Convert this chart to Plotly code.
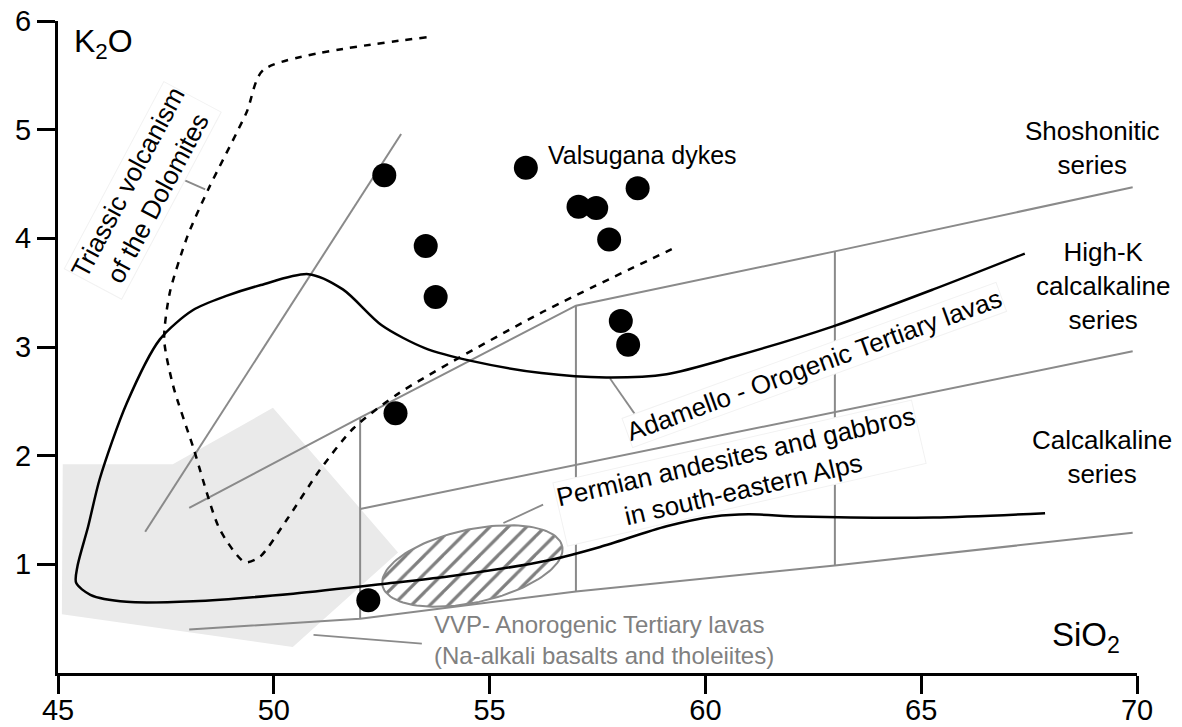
import numpy as np
import plotly.graph_objects as go

FONT = "Liberation Sans, Arial, sans-serif"
GRAY = "#8a8a8a"

# Valsugana dykes (SiO2, K2O)
dyke_sio2 = [52.56, 55.84, 57.06, 57.47, 58.43, 57.77, 53.52, 53.75, 58.04, 58.21, 52.82, 52.19]
dyke_k2o = [4.58, 4.65, 4.29, 4.28, 4.46, 3.99, 3.93, 3.46, 3.24, 3.02, 2.39, 0.67]

# VVP anorogenic field (grey polygon)
vvp_x = [45.11, 47.66, 49.98, 52.88, 50.44, 45.09]
vvp_y = [1.92, 1.92, 2.44, 1.11, 0.24, 0.54]

# Adamello orogenic field boundary
ada_x = [67.40, 65.28, 62.96, 60.65, 59.10, 57.70, 56.20, 54.60, 53.50, 52.50, 51.60, 50.80,
         49.70, 48.90, 48.13, 47.36, 46.59, 45.97, 45.70, 45.45, 45.42, 45.75, 46.59,
         48.13, 50.45, 52.77, 54.08, 56.40, 57.56, 59.10, 60.20, 61.00, 62.19, 65.28, 67.87]
ada_y = [3.86, 3.53, 3.19, 2.91, 2.75, 2.72, 2.76, 2.87, 2.99, 3.20, 3.53, 3.67,
         3.57, 3.47, 3.34, 3.07, 2.48, 1.79, 1.35, 0.98, 0.83, 0.72, 0.655,
         0.66, 0.73, 0.83, 0.89, 1.04, 1.16, 1.35, 1.44, 1.46, 1.44, 1.43, 1.47]

# Triassic volcanism of the Dolomites (dashed)
tri_x = [53.54, 49.76, 49.37, 48.48, 48.00, 47.59, 47.46, 47.67, 48.13, 48.75, 49.33, 49.68,
         50.30, 51.07, 51.84, 52.92, 56.17, 59.22]
tri_y = [5.85, 5.55, 5.16, 4.45, 4.02, 3.50, 3.07, 2.64, 2.08, 1.32, 1.02, 1.07,
         1.41, 1.87, 2.25, 2.58, 3.31, 3.90]

# Series boundaries
lineA_x = [47.02, 52.95]
lineA_y = [1.30, 4.96]
shosh_x = [48.04, 52.0, 57.0, 63.0, 69.9]
shosh_y = [1.52, 2.35, 3.38, 3.88, 4.47]
hk_x = [52.0, 69.9]
hk_y = [1.51, 2.96]
ca_x = [48.04, 52.0, 57.0, 63.0, 69.9]
ca_y = [0.40, 0.50, 0.75, 0.99, 1.29]
div_x = [52.0, 57.0, 63.0]

# Permian ellipse parameters
ell_cx, ell_cy = 54.60, 0.985
ell_a_px, ell_b_px, ell_ang = 92.0, 36.5, 12.4
PX_X, PX_Y = 43.16, 108.7

fig = go.Figure()

fig.add_trace(go.Scatter(x=vvp_x + [vvp_x[0]], y=vvp_y + [vvp_y[0]], fill="toself",
                         fillcolor="#eaeaea", line=dict(width=0), mode="lines", hoverinfo="skip"))

# ellipse
t = np.linspace(0, 2 * np.pi, 120)
th = np.deg2rad(ell_ang)
dx = ell_a_px * np.cos(t) * np.cos(th) - ell_b_px * np.sin(t) * np.sin(th)
dy = ell_a_px * np.cos(t) * np.sin(th) + ell_b_px * np.sin(t) * np.cos(th)
fig.add_trace(go.Scatter(x=ell_cx + dx / PX_X, y=ell_cy + dy / PX_Y, fill="toself", mode="lines",
                         fillcolor="white",
                         fillpattern=dict(shape="/", size=13, solidity=0.25, fgcolor="black", bgcolor="white"),
                         line=dict(color=GRAY, width=2), hoverinfo="skip"))

# grey boundaries
vx, vy = [], []
for xv in div_x:
    vx += [xv, xv, None]
    vy += [float(np.interp(xv, ca_x, ca_y)), float(np.interp(xv, shosh_x, shosh_y)), None]
for xs, ys in [(lineA_x, lineA_y), (shosh_x, shosh_y), (hk_x, hk_y), (ca_x, ca_y), (vx, vy)]:
    fig.add_trace(go.Scatter(x=xs, y=ys, mode="lines", line=dict(color=GRAY, width=2), hoverinfo="skip"))

# leader lines
leaders = [([47.90, 48.41], [4.54, 4.45]), ([57.79, 58.37], [2.71, 2.38]),
           ([55.32, 56.24], [1.38, 1.55]), ([50.92, 53.43], [0.35, 0.27])]
for lx, ly in leaders:
    fig.add_trace(go.Scatter(x=lx, y=ly, mode="lines", line=dict(color=GRAY, width=1.8), hoverinfo="skip"))

fig.add_trace(go.Scatter(x=tri_x, y=tri_y, mode="lines", line=dict(color="black", width=2.5, dash="7px,7px",
                         shape="spline", smoothing=0.7), hoverinfo="skip"))
fig.add_trace(go.Scatter(x=ada_x, y=ada_y, mode="lines", line=dict(color="black", width=2.5,
                         shape="spline", smoothing=0.8), hoverinfo="skip"))

fig.add_trace(go.Scatter(x=dyke_sio2, y=dyke_k2o, mode="markers",
                         marker=dict(size=24, color="black", line=dict(width=0)), hoverinfo="skip"))

box = dict(bgcolor="white", bordercolor="#f2f2f2", borderwidth=1, borderpad=0)
ann = []
def label(text, x, y, angle=0, size=26, color="black", align="center", xanchor="center", boxed=False):
    d = dict(text=text, x=x, y=y, xref="x", yref="y", showarrow=False, textangle=angle,
             font=dict(family=FONT, size=size, color=color), align=align,
             xanchor=xanchor, yanchor="middle")
    if boxed:
        d.update(box)
    ann.append(d)

label("Valsugana dykes", 58.55, 4.77, size=25)
label("Shoshonitic<br>series", 68.96, 4.83)
label("High-K<br>calcalkaline<br>series", 69.21, 3.56)
label("Calcalkaline<br>series", 69.19, 1.99)
label("Triassic volcanism<br>of the Dolomites", 46.95, 4.44, angle=-62, boxed=True)
label("Adamello - Orogenic Tertiary lavas", 62.52, 2.83, angle=-20, boxed=True)
label("Permian andesites and gabbros<br>in south-eastern Alps", 60.80, 1.84, angle=-13, boxed=True)
label("VVP- Anorogenic Tertiary lavas<br>(Na-alkali basalts and tholeiites)", 53.67, 0.30,
      size=24, color="#808080", align="left", xanchor="left")
label("K<sub>2</sub>O", 45.33, 5.79, size=32, xanchor="left")
label("SiO<sub>2</sub>", 67.98, 0.33, size=33, xanchor="left")

axis = dict(showline=True, linecolor="black", linewidth=3, ticks="outside", ticklen=18, tickwidth=3,
            tickcolor="black", showgrid=False, zeroline=False, automargin=False,
            tickfont=dict(family=FONT, size=29, color="black"))
fig.update_layout(
    width=1182, height=727, margin=dict(l=58, r=45, t=21, b=54, autoexpand=False),
    paper_bgcolor="white", plot_bgcolor="white", showlegend=False,
    xaxis=dict(range=[45, 70], tickvals=[45, 50, 55, 60, 65, 70], ticklabelstandoff=-9, **axis),
    yaxis=dict(range=[0, 6], tickvals=[1, 2, 3, 4, 5, 6], **axis),
    annotations=ann,
)
fig.write_html("out.html", config={"displayModeBar": False})

# remove the default page margin so the figure sits at the window's top-left corner
with open("out.html", "r", encoding="utf-8") as f:
    html = f.read()
html = html.replace("<head>", "<head><style>html,body{margin:0;padding:0;overflow:hidden;}</style>", 1)
with open("out.html", "w", encoding="utf-8") as f:
    f.write(html)
